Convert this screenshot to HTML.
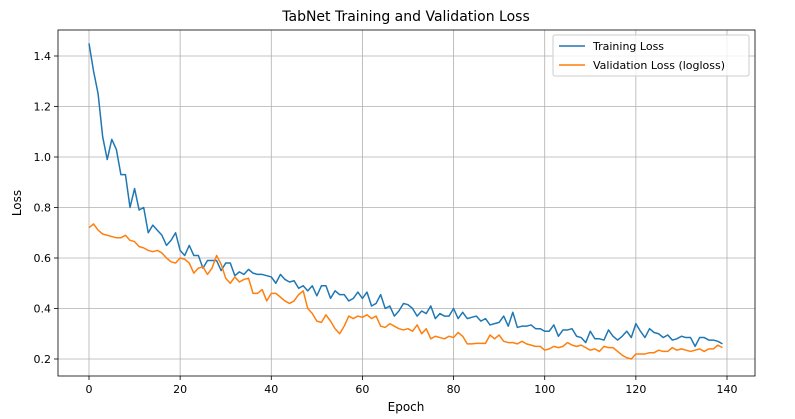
<!DOCTYPE html>
<html><head><meta charset="utf-8"><style>
body{margin:0;background:#fff;font-family:"Liberation Sans","DejaVu Sans",sans-serif;}
svg text{font-family:"DejaVu Sans","Liberation Sans",sans-serif;}
</style></head><body>
<svg id="chart" width="795" height="414" xmlns="http://www.w3.org/2000/svg">
<text x="406" y="21" font-size="14" text-anchor="middle" fill="#000">TabNet Training and Validation Loss</text>
<g id="grid"></g>
<g id="series"></g>
<rect x="58" y="30" width="697" height="346" fill="none" stroke="#000" stroke-width="0.8"/>
<g id="ticks"></g>
<text x="406" y="411" font-size="12" text-anchor="middle">Epoch</text>
<text x="21" y="203" font-size="12" text-anchor="middle" transform="rotate(-90 21 203)">Loss</text>
<g>
<rect x="553" y="35" width="196" height="41" fill="#fff" fill-opacity="0.8" stroke="#ccc" rx="2"/>
<line x1="559" y1="46" x2="585" y2="46" stroke="#1f77b4" stroke-width="1.5"/>
<text x="593" y="50" font-size="11">Training Loss</text>
<line x1="559" y1="65" x2="585" y2="65" stroke="#ff7f0e" stroke-width="1.5"/>
<text x="593" y="69" font-size="11">Validation Loss (logloss)</text>
</g>
</svg>
<script>
const trainLoss=[1.45,1.34,1.25,1.08,0.99,1.07,1.03,0.93,0.93,0.80,0.875,0.79,0.80,0.70,0.73,0.71,0.69,0.65,0.67,0.70,0.63,0.61,0.65,0.61,0.61,0.56,0.59,0.59,0.59,0.55,0.58,0.58,0.53,0.545,0.535,0.555,0.54,0.535,0.535,0.53,0.525,0.50,0.535,0.515,0.505,0.51,0.48,0.49,0.47,0.49,0.45,0.49,0.49,0.44,0.47,0.455,0.455,0.43,0.44,0.465,0.44,0.465,0.41,0.42,0.455,0.40,0.41,0.37,0.39,0.42,0.415,0.40,0.37,0.39,0.38,0.41,0.36,0.38,0.37,0.37,0.40,0.36,0.385,0.36,0.365,0.37,0.35,0.36,0.335,0.34,0.345,0.37,0.33,0.385,0.325,0.33,0.33,0.335,0.32,0.32,0.31,0.31,0.335,0.29,0.315,0.315,0.32,0.29,0.285,0.265,0.31,0.28,0.28,0.275,0.315,0.29,0.275,0.29,0.31,0.285,0.34,0.31,0.285,0.32,0.305,0.30,0.285,0.295,0.275,0.28,0.29,0.285,0.285,0.25,0.285,0.285,0.275,0.275,0.27,0.26];
const valLoss=[0.72,0.735,0.71,0.695,0.69,0.685,0.68,0.68,0.69,0.67,0.665,0.645,0.64,0.63,0.625,0.63,0.62,0.60,0.585,0.58,0.60,0.595,0.58,0.54,0.56,0.565,0.535,0.56,0.61,0.575,0.52,0.50,0.525,0.505,0.515,0.52,0.46,0.46,0.475,0.43,0.46,0.46,0.445,0.43,0.42,0.43,0.455,0.47,0.40,0.38,0.35,0.345,0.375,0.35,0.32,0.30,0.33,0.37,0.36,0.37,0.365,0.375,0.36,0.37,0.33,0.325,0.34,0.33,0.32,0.315,0.32,0.31,0.335,0.30,0.32,0.28,0.29,0.285,0.28,0.29,0.285,0.305,0.29,0.26,0.26,0.262,0.262,0.262,0.295,0.28,0.295,0.27,0.265,0.265,0.26,0.27,0.26,0.255,0.25,0.25,0.235,0.24,0.25,0.245,0.25,0.265,0.255,0.25,0.255,0.245,0.235,0.24,0.23,0.25,0.245,0.245,0.23,0.215,0.205,0.20,0.22,0.22,0.22,0.225,0.225,0.235,0.23,0.23,0.245,0.235,0.24,0.235,0.23,0.235,0.24,0.23,0.24,0.24,0.255,0.245];
const xTicks=[0,20,40,60,80,100,120,140];
const yTicks=[0.2,0.4,0.6,0.8,1.0,1.2,1.4];
const yTickLabels=["0.2","0.4","0.6","0.8","1.0","1.2","1.4"];
const NS="http://www.w3.org/2000/svg";
const xs=e=>89+e*(727-89)/140;
const ys=v=>359-(v-0.2)*(359-56)/1.2;
const grid=document.getElementById('grid'),ticks=document.getElementById('ticks'),ser=document.getElementById('series');
function mk(tag,attrs,parent){const el=document.createElementNS(NS,tag);for(const k in attrs)el.setAttribute(k,attrs[k]);parent.appendChild(el);return el;}
xTicks.forEach(t=>{const x=xs(t);
 const g=mk('line',{x1:x,x2:x,y1:30,y2:376,stroke:'#b0b0b0','stroke-width':0.8},grid);
 
 
 const tk=mk('line',{x1:x,x2:x,y1:376,y2:380,stroke:'#000','stroke-width':0.8},ticks);
 
 
 const tx=mk('text',{x:x,y:393,'font-size':11,'text-anchor':'middle'},ticks);tx.textContent=t;
 
 
});
yTicks.forEach((t,i)=>{const y=ys(t);
 const g=mk('line',{x1:58,x2:755,y1:y,y2:y,stroke:'#b0b0b0','stroke-width':0.8},grid);
 
 
 const tk=mk('line',{x1:54,x2:58,y1:y,y2:y,stroke:'#000','stroke-width':0.8},ticks);
 
 
 const tx=mk('text',{x:51,y:y+4,'font-size':11,'text-anchor':'end'},ticks);tx.textContent=yTickLabels[i];
 
 
});
function line(data,color,name){
 const p=mk('polyline',{points:data.map((v,i)=>xs(i)+','+ys(v)).join(' '),fill:'none',stroke:color,'stroke-width':1.5,'stroke-linejoin':'round'},ser);
 
 
}
line(trainLoss,'#1f77b4','training-loss-line');
line(valLoss,'#ff7f0e','validation-loss-line');
</script>
</body></html>
